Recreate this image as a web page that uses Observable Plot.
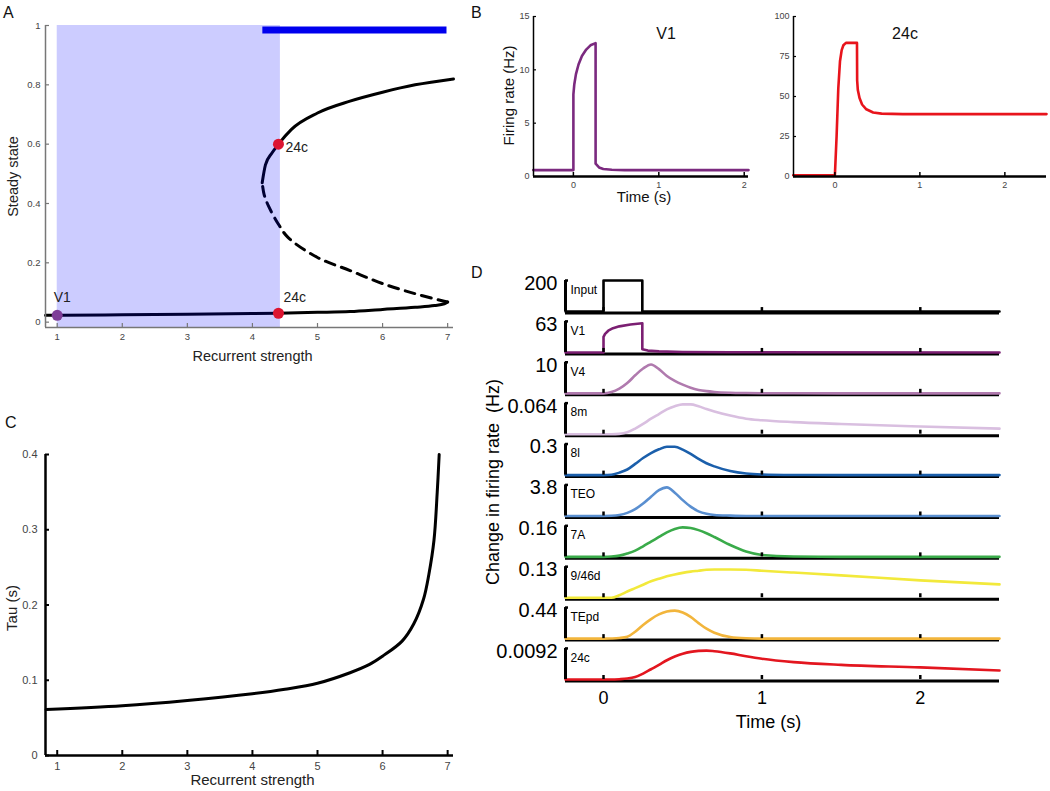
<!DOCTYPE html>
<html>
<head>
<meta charset="utf-8">
<script src="https://cdn.jsdelivr.net/npm/d3@7"></script>
<script src="https://cdn.jsdelivr.net/npm/@observablehq/plot@0.6"></script>
<style>
html,body{margin:0;padding:0;background:#fff;}
#fig{position:relative;width:1050px;height:791px;overflow:hidden;font-family:"Liberation Sans",Arial,Helvetica,sans-serif;}
.panel{position:absolute;}
.letter{position:absolute;font-size:16px;line-height:16px;color:#111;}
</style>
</head>
<body>
<div id="fig"></div>
<script>
// ===================== DATA =====================
// Panel A: bifurcation diagram (steady state vs recurrent strength)
const aLowerX = [0.82, 1, 2, 3, 4, 4.4, 5, 5.5, 6, 6.5, 6.8, 6.95, 7.0];
const aLowerY = [0.023, 0.023, 0.025, 0.027, 0.029, 0.030, 0.033, 0.036, 0.043, 0.05, 0.056, 0.062, 0.068];
const aUnstableX = [7.0, 6.9, 6.5, 6.0, 5.5, 5.0, 4.55, 4.4, 4.25, 4.18, 4.15];
const aUnstableY = [0.068, 0.073, 0.096, 0.13, 0.174, 0.218, 0.285, 0.33, 0.39, 0.43, 0.47];
const aUpperX = [4.15, 4.2, 4.3, 4.4, 4.6, 5, 5.5, 6, 6.5, 7.09];
const aUpperY = [0.47, 0.53, 0.57, 0.60, 0.65, 0.705, 0.745, 0.775, 0.80, 0.82];
const aShade = [1, 4.43];          // monostable range (shaded)
const aBar = [4.16, 6.99];         // bistable range (blue bar)
const aBarY = 0.985;
const aPointNames = ["V1", "24c", "24c"];
const aPointX = [1, 4.4, 4.4];
const aPointY = [0.023, 0.03, 0.6];
const aPointColors = ["#7f3f98", "#dc1430", "#dc1430"];
const aXTicks = [1, 2, 3, 4, 5, 6, 7];
const aYTicks = [0, 0.2, 0.4, 0.6, 0.8, 1];

// Panel B: firing rate traces
const bV1T = [-0.47, 0, 0, 0.01, 0.03, 0.06, 0.1, 0.15, 0.2, 0.26, 0.26, 0.3, 0.35, 0.45, 0.6, 2.05];
const bV1V = [0.6, 0.6, 7.7, 8.6, 9.6, 10.5, 11.3, 11.9, 12.3, 12.5, 1.2, 0.85, 0.7, 0.63, 0.6, 0.6];
const b24cT = [-0.49, 0, 0.02, 0.04, 0.06, 0.08, 0.1, 0.13, 0.26, 0.262, 0.27, 0.29, 0.32, 0.37, 0.45, 0.55, 0.8, 2.49];
const b24cV = [0.8, 0.8, 25, 55, 72, 79, 82, 83.5, 83.5, 60, 54, 49, 45, 42, 40, 39.3, 39, 39];
const bLeftYTicks = [0, 5, 10, 15];
const bRightYTicks = [0, 25, 50, 75, 100];
const bXTicks = [0, 1, 2];

// Panel C: time constant vs recurrent strength
const cX = [0.83, 2, 3, 4, 4.5, 5, 5.5, 5.8, 6, 6.3, 6.48, 6.63, 6.71, 6.79, 6.84, 6.87];
const cY = [0.061, 0.066, 0.073, 0.082, 0.088, 0.096, 0.11, 0.121, 0.132, 0.152, 0.175, 0.208, 0.24, 0.286, 0.35, 0.4];
const cXTicks = [1, 2, 3, 4, 5, 6, 7];
const cYTicks = [0, 0.1, 0.2, 0.3, 0.4];

// Panel D: change in firing rate per area, normalised to each area's scale bar
const dAreas = ["Input", "V1", "V4", "8m", "8l", "TEO", "7A", "9/46d", "TEpd", "24c"];
const dScaleLabels = ["200", "63", "10", "0.064", "0.3", "3.8", "0.16", "0.13", "0.44", "0.0092"];
const dColors = ["#000000", "#7b1f72", "#b07aae", "#d9bfe0", "#1b5fab", "#5a8fd0", "#3aab4a", "#f2e93b", "#f2b53c", "#e3161f"];
const dTicks = [0, 1, 2];
const dInputT = [-0.24, 0, 0, 0.245, 0.245, 2.5];
const dInputV = [0, 0, 1, 1, 0, 0];
const dV1T = [-0.24, 0, 0, 0.01, 0.03, 0.06, 0.1, 0.17, 0.245, 0.245, 0.28, 0.35, 0.5, 0.8, 2.5];
const dV1V = [0, 0, 0.5, 0.6, 0.7, 0.78, 0.84, 0.9, 0.94, 0.1, 0.06, 0.035, 0.015, 0.005, 0];
const dTime = [-0.24, 0, 0.05, 0.1, 0.15, 0.2, 0.25, 0.3, 0.35, 0.4, 0.45, 0.5, 0.55, 0.6, 0.65, 0.7, 0.8, 0.9, 1.0, 1.2, 1.5, 2.0, 2.5];
const dV4   = [0, 0, 0.04, 0.15, 0.33, 0.58, 0.8, 0.93, 0.78, 0.56, 0.4, 0.28, 0.18, 0.11, 0.07, 0.045, 0.02, 0.01, 0.005, 0.002, 0, 0, 0];
const d8m   = [0, 0, 0, 0.01, 0.06, 0.18, 0.33, 0.5, 0.65, 0.8, 0.9, 0.96, 0.96, 0.9, 0.81, 0.73, 0.6, 0.5, 0.45, 0.39, 0.33, 0.25, 0.18];
const d8l   = [0, 0, 0.01, 0.08, 0.18, 0.36, 0.55, 0.71, 0.83, 0.91, 0.91, 0.82, 0.68, 0.52, 0.38, 0.28, 0.13, 0.05, 0.02, 0.005, 0, 0, 0];
const dTEO  = [0, 0, 0.005, 0.03, 0.1, 0.22, 0.4, 0.62, 0.83, 0.92, 0.75, 0.51, 0.3, 0.15, 0.07, 0.03, 0.01, 0, 0, 0, 0, 0, 0];
const d7A   = [0, 0, 0.01, 0.04, 0.11, 0.2, 0.34, 0.49, 0.64, 0.79, 0.9, 0.95, 0.93, 0.86, 0.76, 0.64, 0.38, 0.17, 0.06, 0.01, 0, 0, 0];
const d946d = [0, 0, 0, 0.08, 0.2, 0.31, 0.42, 0.53, 0.61, 0.69, 0.75, 0.8, 0.84, 0.87, 0.9, 0.91, 0.91, 0.9, 0.87, 0.81, 0.72, 0.56, 0.43];
const dTEpd = [0, 0, 0.005, 0.02, 0.06, 0.22, 0.44, 0.63, 0.78, 0.87, 0.9, 0.84, 0.7, 0.5, 0.32, 0.19, 0.05, 0.01, 0, 0, 0, 0, 0];
const d24c  = [0, 0, 0, 0.01, 0.03, 0.08, 0.19, 0.33, 0.47, 0.62, 0.74, 0.83, 0.89, 0.92, 0.93, 0.91, 0.84, 0.75, 0.67, 0.56, 0.47, 0.39, 0.29];

// ===================== DRAWING =====================
const FONT = '"Liberation Sans", Arial, Helvetica, sans-serif';
const fmt = d => String(d);
const fig = document.getElementById("fig");
function place(node, left, top) {
  const d = document.createElement("div");
  d.className = "panel"; d.style.left = left + "px"; d.style.top = top + "px";
  d.appendChild(node); fig.appendChild(d);
}
function letter(t, left, top) {
  const d = document.createElement("div");
  d.className = "letter"; d.style.left = left + "px"; d.style.top = top + "px";
  d.textContent = t; fig.appendChild(d);
}
const zip = (xs, ys) => xs.map((x, i) => ({x, y: ys[i]}));
const vLabel = (s, dx, dy, fontSize, fill) =>
  Plot.text([s], {text: d => d, frameAnchor: "left", textAnchor: "middle", lineAnchor: "middle", dx, dy, rotate: -90, fontSize, fill});
const hLabel = (s, dx, dy, fontSize, fill) =>
  Plot.text([s], {text: d => d, frameAnchor: "bottom", textAnchor: "middle", lineAnchor: "middle", dx, dy, fontSize, fill});

// ---------- Panel A ----------
{
  const xd = [0.82, 7.09], yd = [-0.018, 1];
  const ux = (xd[1] - xd[0]) / 408, uy = (yd[1] - yd[0]) / 302;
  const pts = aPointNames.map((n, i) => ({n, i, x: aPointX[i], y: aPointY[i], c: aPointColors[i]}));
  const plot = Plot.plot({
    width: 470, height: 380, marginLeft: 45, marginRight: 17, marginTop: 25, marginBottom: 53,
    x: {domain: xd, label: null}, y: {domain: yd, label: null}, color: {type: "identity"},
    style: {fontFamily: FONT, background: "transparent", color: "#111"},
    marks: [
      Plot.line(zip(aLowerX, aLowerY), {x: "x", y: "y", stroke: "#000", strokeWidth: 3, curve: "monotone-x"}),
      Plot.line(zip(aUpperX, aUpperY), {x: "x", y: "y", stroke: "#000", strokeWidth: 3, curve: "monotone-x"}),
      Plot.line(zip(aUnstableX, aUnstableY), {x: "x", y: "y", stroke: "#000", strokeWidth: 3, strokeDasharray: "10,7", curve: "catmull-rom"}),
      Plot.rect([aShade], {x1: d => d[0], x2: d => d[1], y1: () => yd[0], y2: () => yd[1], fill: "#0000ff", fillOpacity: 0.2}),
      Plot.ruleY([aBarY], {x1: aBar[0], x2: aBar[1], stroke: "#0000ee", strokeWidth: 7}),
      Plot.dot(pts, {x: "x", y: "y", fill: "c", r: 5.5, stroke: null}),
      Plot.text(pts.filter(d => d.i === 0), {x: "x", y: "y", text: "n", dx: 5, dy: -18, fontSize: 14, fill: "#222"}),
      Plot.text(pts.filter(d => d.i === 1), {x: "x", y: "y", text: "n", textAnchor: "start", dx: 5, dy: -16, fontSize: 14, fill: "#222"}),
      Plot.text(pts.filter(d => d.i === 2), {x: "x", y: "y", text: "n", textAnchor: "start", dx: 7, dy: 3, fontSize: 14, fill: "#222"}),
      Plot.ruleY([yd[0]], {x1: xd[0], x2: xd[1], stroke: "#777", strokeWidth: 1.5}),
      Plot.ruleX([xd[0]], {y1: yd[0], y2: yd[1], stroke: "#777", strokeWidth: 1.5}),
      Plot.ruleX(aXTicks, {x: d => d, y1: yd[0], y2: yd[0] + 4 * uy, stroke: "#777", strokeWidth: 1.2}),
      Plot.ruleY(aYTicks, {y: d => d, x1: xd[0], x2: xd[0] + 4 * ux, stroke: "#777", strokeWidth: 1.2}),
      Plot.axisX({ticks: aXTicks, tickFormat: fmt, tickSize: 0, tickPadding: 6, fontSize: 9.5, fill: "#444", label: null}),
      Plot.axisY({ticks: aYTicks, tickFormat: fmt, tickSize: 0, tickPadding: 5, fontSize: 9.5, fill: "#444", label: null}),
      hLabel("Recurrent strength", 3, 29, 14.5, "#222"),
      vLabel("Steady state", -32, 0, 14.5, "#222")
    ]
  });
  place(plot, 0, 0);
}

// ---------- Panel B ----------
function panelB({xd, yd, yTicks, t, v, color, name, left, width, mLeft, mRight, nameDx, ylabel, xlabel}) {
  const fw = width - mLeft - mRight, fh = 160;
  const ux = (xd[1] - xd[0]) / fw, uy = (yd[1] - yd[0]) / fh;
  const marks = [
    Plot.line(zip(t, v), {x: "x", y: "y", stroke: color, strokeWidth: 2.6, curve: "linear"}),
    Plot.ruleY([yd[0]], {x1: xd[0], x2: xd[1], stroke: "#000", strokeWidth: 2.5}),
    Plot.ruleX([xd[0]], {y1: yd[0], y2: yd[1], stroke: "#000", strokeWidth: 1.5}),
    Plot.ruleX(bXTicks, {x: d => d, y1: yd[0], y2: yd[0] + 4 * uy, stroke: "#000", strokeWidth: 1.5}),
    Plot.ruleY(yTicks, {y: d => d, x1: xd[0], x2: xd[0] + 3 * ux, stroke: "#000", strokeWidth: 1.2}),
    Plot.axisX({ticks: bXTicks, tickFormat: fmt, tickSize: 0, tickPadding: 5, fontSize: 9, fill: "#444", label: null}),
    Plot.axisY({ticks: yTicks, tickFormat: fmt, tickSize: 0, tickPadding: 4, fontSize: 9, fill: "#444", label: null}),
    Plot.text([name], {text: d => d, frameAnchor: "top", textAnchor: "middle", lineAnchor: "middle", dx: nameDx, dy: 17, fontSize: 16, fill: "#111"})
  ];
  if (ylabel) marks.push(vLabel(ylabel, -24, -1, 15, "#111"));
  if (xlabel) marks.push(hLabel(xlabel, 3, 21, 15, "#111"));
  const plot = Plot.plot({
    width, height: 215, marginLeft: mLeft, marginRight: mRight, marginTop: 16, marginBottom: 39,
    x: {domain: xd, label: null}, y: {domain: yd, label: null},
    style: {fontFamily: FONT, background: "transparent", color: "#111"},
    marks
  });
  place(plot, left, 0);
}
panelB({xd: [-0.467, 2.05], yd: [0, 15], yTicks: bLeftYTicks, t: bV1T, v: bV1V, color: "#7b2a7f", name: "V1",
        left: 470, width: 290, mLeft: 63, mRight: 12, nameDx: 25, ylabel: "Firing rate (Hz)", xlabel: "Time (s)"});
panelB({xd: [-0.487, 2.49], yd: [0, 100], yTicks: bRightYTicks, t: b24cT, v: b24cV, color: "#e8141c", name: "24c",
        left: 760, width: 290, mLeft: 33, mRight: 4, nameDx: -15});

// ---------- Panel C ----------
{
  const xd = [0.82, 7.09], yd = [0, 0.4];
  const ux = (xd[1] - xd[0]) / 408, uy = (yd[1] - yd[0]) / 301;
  const plot = Plot.plot({
    width: 470, height: 401, marginLeft: 45, marginRight: 17, marginTop: 64, marginBottom: 36,
    x: {domain: xd, label: null}, y: {domain: yd, label: null},
    style: {fontFamily: FONT, background: "transparent", color: "#111"},
    marks: [
      Plot.line(zip(cX, cY), {x: "x", y: "y", stroke: "#000", strokeWidth: 3, curve: "catmull-rom"}),
      Plot.ruleY([yd[0]], {x1: xd[0], x2: xd[1], stroke: "#000", strokeWidth: 2.5}),
      Plot.ruleX([xd[0]], {y1: yd[0], y2: yd[1], stroke: "#000", strokeWidth: 2.5}),
      Plot.ruleX(cXTicks, {x: d => d, y1: yd[0], y2: yd[0] + 5 * uy, stroke: "#000", strokeWidth: 2}),
      Plot.ruleY(cYTicks, {y: d => d, x1: xd[0], x2: xd[0] + 4 * ux, stroke: "#000", strokeWidth: 2}),
      Plot.axisX({ticks: cXTicks, tickFormat: fmt, tickSize: 0, tickPadding: 7, fontSize: 11, fill: "#444", label: null}),
      Plot.axisY({ticks: cYTicks, tickFormat: fmt, tickSize: 0, tickPadding: 8, fontSize: 11, fill: "#444", label: null}),
      hLabel("Recurrent strength", 3, 25, 15, "#222"),
      vLabel("Tau (s)", -33, 3, 15, "#222")
    ]
  });
  place(plot, 0, 390);
}

// ---------- Panel D ----------
{
  const xd = [-0.24, 2.5], yd = [-9, 0.76], H = 0.76;
  const ux = (xd[1] - xd[0]) / 434, uy = (yd[1] - yd[0]) / 399;
  const traces = [[dInputT, dInputV], [dV1T, dV1V], [dTime, dV4], [dTime, d8m], [dTime, d8l],
                  [dTime, dTEO], [dTime, d7A], [dTime, d946d], [dTime, dTEpd], [dTime, d24c]];
  const rows = dAreas.map((name, i) => ({i, name, scale: dScaleLabels[i], color: dColors[i]}));
  const tickData = rows.flatMap(r => dTicks.map(t => ({i: r.i, t})));
  const plot = Plot.plot({
    width: 580, height: 480, marginLeft: 95, marginRight: 51, marginTop: 20, marginBottom: 61,
    x: {domain: xd, label: null}, y: {domain: yd, label: null, axis: null},
    style: {fontFamily: FONT, background: "transparent", color: "#000"},
    marks: [
      Plot.ruleY(rows, {y: d => -d.i, x1: xd[0], x2: xd[1], stroke: "#000", strokeWidth: 3, dy: 1.5}),
      ...rows.map(r => {
        const [ts, vs] = traces[r.i];
        return Plot.line(ts.map((t, j) => ({t, v: vs[j]})),
          {x: "t", y: d => -r.i + d.v * H, stroke: r.color, strokeWidth: 2.6, curve: r.i < 2 ? "linear" : "monotone-x"});
      }),
      Plot.ruleX(tickData, {x: "t", y1: d => -d.i, y2: d => -d.i + 4 * uy, stroke: "#000", strokeWidth: 2.5}),
      Plot.ruleX(rows, {x: () => xd[0], y1: d => -d.i, y2: d => -d.i + H, stroke: "#000", strokeWidth: 3}),
      Plot.ruleY(rows, {y: d => -d.i + H, x1: xd[0], x2: xd[0] + 3 * ux, stroke: "#000", strokeWidth: 2.5}),
      Plot.text(rows, {x: () => xd[0], y: d => -d.i + H, text: "scale", textAnchor: "end", dx: -8, dy: 3, fontSize: 20}),
      Plot.text(rows, {x: () => xd[0], y: d => -d.i + H, text: "name", textAnchor: "start", dx: 5, dy: 9.5, fontSize: 12}),
      Plot.axisX({ticks: dTicks, tickFormat: fmt, tickSize: 0, tickPadding: 12, fontSize: 18, fill: "#000", label: null}),
      hLabel("Time (s)", -14, 43, 18, "#000"),
      vLabel("Change in firing rate\u00a0 (Hz)", -72, 2, 18, "#000")
    ]
  });
  place(plot, 470, 260);
}

letter("A", 3, 5);
letter("B", 471, 5);
letter("C", 5, 415);
letter("D", 471, 265);
</script>
</body>
</html>
